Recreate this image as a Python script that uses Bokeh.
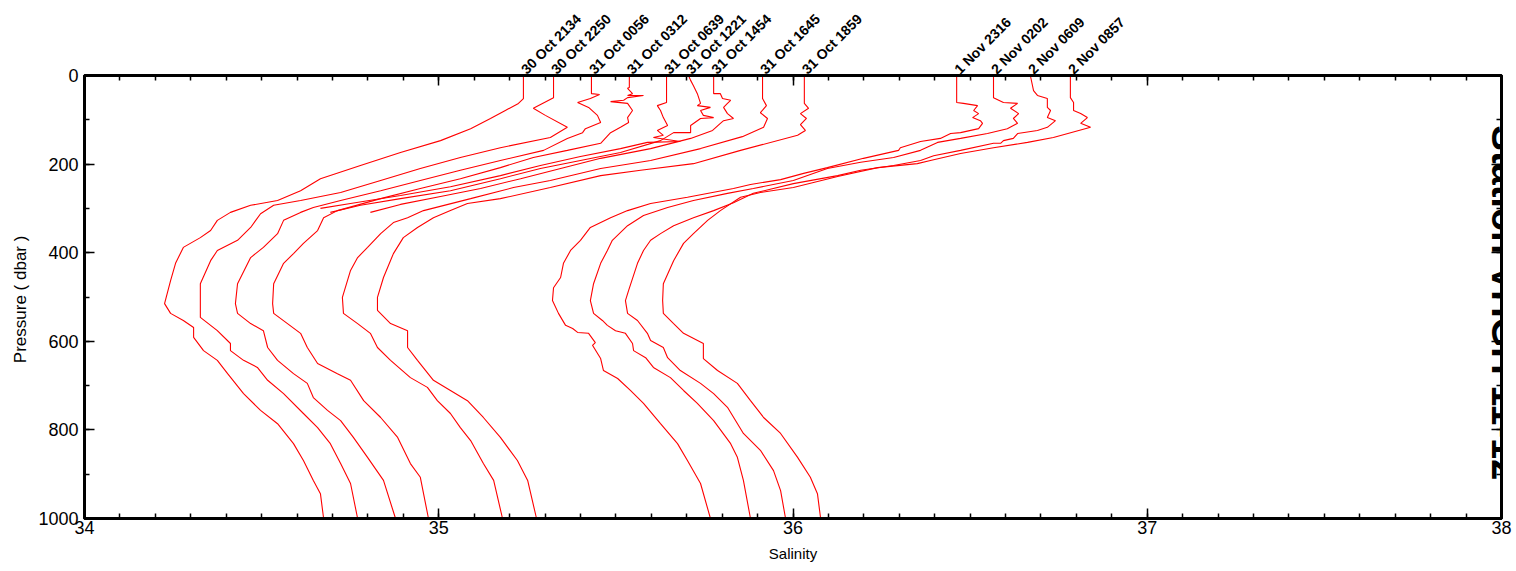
import math
from bokeh.plotting import figure
from bokeh.models import (Range1d, LinearAxis, SingleIntervalTicker, FixedTicker, Label,
                          CustomJSTickFormatter)
from bokeh.embed import file_html
from bokeh.resources import INLINE

# ---------------- data (salinity vs pressure) ----------------
station_labels = ["30 Oct 2134", "30 Oct 2250", "31 Oct 0056", "31 Oct 0312", "31 Oct 0639",
                  "31 Oct 1221", "31 Oct 1454", "31 Oct 1645", "31 Oct 1859",
                  "1 Nov 2316", "2 Nov 0202", "2 Nov 0609", "2 Nov 0857"]

s_30oct2134 = [35.239, 35.239, 35.225, 35.188, 35.146, 35.090, 35.005, 34.892, 34.779, 34.666, 34.610, 34.545,
               34.469, 34.412, 34.375, 34.356, 34.327, 34.279, 34.257, 34.243, 34.226, 34.243, 34.279, 34.308,
               34.308, 34.336, 34.375, 34.404, 34.449, 34.497, 34.545, 34.590, 34.618, 34.646, 34.666, 34.675]
p_30oct2134 = [0, 52, 63, 79, 97, 120, 147, 174, 203, 233, 260, 282, 293, 309, 327, 350, 366, 388, 424, 463,
               515, 537, 553, 569, 591, 621, 643, 673, 718, 756, 786, 831, 869, 914, 944, 1000]

s_30oct2250 = [35.324, 35.324, 35.267, 35.301, 35.363, 35.315, 35.174, 35.061, 34.948, 34.836, 34.723, 34.610,
               34.534, 34.497, 34.469, 34.432, 34.375, 34.356, 34.327, 34.327, 34.327, 34.375, 34.412, 34.412,
               34.449, 34.488, 34.517, 34.562, 34.618, 34.658, 34.694, 34.723, 34.751, 34.771]
p_30oct2250 = [0, 50, 74, 90, 117, 140, 163, 185, 210, 237, 264, 282, 293, 312, 343, 372, 395, 418, 470, 515,
               546, 576, 605, 621, 643, 659, 688, 718, 763, 795, 831, 876, 921, 1000]

s_31oct0056 = [35.431, 35.431, 35.454, 35.428, 35.392, 35.423, 35.448, 35.457, 35.414, 35.406, 35.363, 35.296,
               35.174, 35.061, 34.948, 34.836, 34.723, 34.646, 34.610, 34.562, 34.545, 34.505, 34.469, 34.432,
               34.426, 34.432, 34.469, 34.505, 34.517, 34.545, 34.590, 34.629, 34.646, 34.686, 34.723, 34.759,
               34.799, 34.844, 34.878]
p_31oct0056 = [0, 41, 43, 52, 61, 72, 90, 106, 120, 129, 142, 169, 192, 214, 237, 260, 282, 298, 309, 327,
               357, 388, 411, 470, 515, 537, 560, 576, 614, 643, 673, 695, 727, 756, 779, 817, 862, 914, 1000]

s_31oct0312 = [35.538, 35.538, 35.533, 35.547, 35.533, 35.578, 35.533, 35.522, 35.485, 35.533, 35.547, 35.533,
               35.536, 35.513, 35.485, 35.457, 35.363, 35.267, 35.174, 35.061, 34.948, 34.836, 34.714, 34.675,
               34.658, 34.618, 34.590, 34.562, 34.534, 34.531, 34.534, 34.573, 34.610, 34.629, 34.658, 34.714,
               34.751, 34.788, 34.836, 34.884, 34.920, 34.948, 34.971]
p_31oct0312 = [0, 27, 29, 41, 45, 45, 50, 56, 59, 63, 79, 95, 106, 117, 129, 153, 169, 185, 208, 233, 255, 278,
               305, 321, 350, 379, 402, 424, 470, 515, 537, 560, 582, 614, 650, 673, 688, 734, 772, 817, 876,
               907, 1000]

s_31oct0639 = [35.643, 35.643, 35.617, 35.626, 35.634, 35.646, 35.617, 35.634, 35.606, 35.682, 35.589, 35.513,
               35.400, 35.287, 35.174, 35.033, 34.892, 34.751, 34.666]
p_31oct0639 = [0, 61, 68, 79, 95, 113, 124, 135, 140, 149, 151, 165, 183, 203, 226, 251, 271, 289, 300]

s_31oct1221 = [35.705, 35.711, 35.719, 35.730, 35.739, 35.730, 35.767, 35.739, 35.747, 35.776, 35.739, 35.711,
               35.711, 35.663, 35.626, 35.513, 35.400, 35.287, 35.174, 35.033, 34.892, 34.779, 34.694]
p_31oct1221 = [0, 11, 23, 41, 63, 68, 72, 79, 90, 95, 97, 113, 129, 129, 147, 174, 192, 210, 233, 260, 278,
               293, 309]

s_31oct1454 = [35.776, 35.776, 35.795, 35.801, 35.824, 35.815, 35.804, 35.815, 35.832, 35.804, 35.795, 35.773,
               35.711, 35.598, 35.457, 35.344, 35.231, 35.118, 35.005, 34.892, 34.807]
p_31oct1454 = [0, 41, 41, 52, 56, 63, 72, 86, 97, 102, 108, 124, 142, 165, 187, 210, 233, 255, 273, 291, 309]

s_31oct1645 = [35.914, 35.914, 35.925, 35.908, 35.928, 35.917, 35.857, 35.739, 35.598, 35.457, 35.315, 35.211,
               35.090, 34.957, 34.912, 34.872, 34.836, 34.799, 34.771, 34.751, 34.728, 34.731, 34.771, 34.807,
               34.827, 34.864, 34.920, 34.968, 34.996, 35.033, 35.061, 35.090, 35.126, 35.155, 35.180]
p_31oct1645 = [0, 52, 68, 84, 97, 117, 138, 165, 192, 210, 237, 253, 278, 305, 321, 332, 357, 388, 411, 440,
               501, 537, 560, 582, 614, 643, 682, 704, 734, 763, 795, 824, 876, 914, 1000]

s_31oct1859 = [36.032, 36.032, 36.044, 36.021, 36.038, 36.021, 36.035, 36.021, 36.013, 35.852, 35.719, 35.570,
               35.457, 35.315, 35.174, 35.081, 35.033, 34.985, 34.940, 34.900, 34.872, 34.844, 34.827, 34.827,
               34.864, 34.912, 34.912, 34.940, 34.985, 35.033, 35.081, 35.126, 35.174, 35.222, 35.251, 35.276]
p_31oct1859 = [0, 63, 74, 86, 97, 111, 124, 131, 135, 169, 199, 214, 226, 253, 278, 289, 305, 321, 343, 366,
               402, 456, 501, 530, 560, 576, 614, 643, 688, 711, 734, 772, 817, 869, 914, 1000]

s_1nov2316 = [36.462, 36.462, 36.481, 36.521, 36.510, 36.524, 36.507, 36.529, 36.535, 36.524, 36.473, 36.445,
              36.416, 36.360, 36.303, 36.298, 36.199, 36.097, 36.030, 35.965, 35.880, 35.832, 35.702, 35.598,
              35.533, 35.485, 35.428, 35.400, 35.372, 35.352, 35.344, 35.324, 35.321, 35.338, 35.358, 35.378,
              35.392, 35.423, 35.442, 35.434, 35.457, 35.465, 35.505, 35.541, 35.578, 35.626, 35.674, 35.702,
              35.739, 35.767]
p_1nov2316 = [0, 61, 63, 68, 79, 86, 95, 102, 108, 120, 129, 131, 142, 149, 163, 169, 187, 208, 221, 235, 246,
              255, 275, 289, 305, 321, 343, 372, 395, 424, 456, 479, 508, 537, 564, 571, 580, 582, 603, 609, 639,
              666, 684, 711, 740, 786, 831, 869, 921, 1000]

s_2nov0202 = [36.566, 36.566, 36.594, 36.634, 36.614, 36.637, 36.622, 36.634, 36.605, 36.549, 36.473, 36.408,
              36.360, 36.284, 36.191, 36.097, 36.001, 35.888, 35.815, 35.719, 35.646, 35.578, 35.533, 35.490,
              35.476, 35.457, 35.437, 35.428, 35.437, 35.462, 35.476, 35.499, 35.527, 35.547, 35.550, 35.584,
              35.606, 35.654, 35.691, 35.730, 35.776, 35.824, 35.843, 35.860, 35.880]
p_2nov0202 = [0, 50, 61, 63, 74, 86, 97, 108, 120, 131, 142, 151, 169, 185, 196, 210, 237, 255, 266, 282, 298,
              316, 339, 372, 395, 424, 470, 508, 537, 553, 564, 576, 582, 605, 621, 637, 659, 682, 711, 740, 779,
              831, 862, 914, 1000]

s_2nov0609 = [36.670, 36.679, 36.690, 36.718, 36.718, 36.727, 36.718, 36.741, 36.718, 36.690, 36.634, 36.622,
              36.594, 36.586, 36.566, 36.473, 36.397, 36.360, 36.284, 36.191, 36.126, 36.001, 35.888, 35.832,
              35.776, 35.719, 35.663, 35.626, 35.598, 35.578, 35.561, 35.536, 35.527, 35.533, 35.561, 35.589,
              35.598, 35.634, 35.646, 35.682, 35.739, 35.776, 35.815, 35.860, 35.908, 35.945, 35.965, 35.979]
p_2nov0609 = [0, 34, 45, 52, 72, 79, 95, 102, 117, 124, 131, 142, 147, 153, 153, 169, 181, 192, 203, 214, 226,
              244, 266, 287, 305, 321, 339, 357, 372, 395, 424, 485, 508, 537, 553, 582, 598, 614, 637, 666, 695,
              718, 749, 808, 846, 892, 937, 1000]

s_2nov0857 = [36.783, 36.783, 36.792, 36.792, 36.812, 36.831, 36.812, 36.840, 36.735, 36.662, 36.566, 36.473,
              36.388, 36.351, 36.239, 36.126, 36.001, 35.908, 35.852, 35.795, 35.759, 35.719, 35.691, 35.663,
              35.634, 35.632, 35.634, 35.663, 35.691, 35.747, 35.747, 35.787, 35.843, 35.880, 35.917, 35.965,
              36.013, 36.049, 36.069, 36.078]
p_2nov0857 = [0, 50, 61, 79, 86, 95, 108, 117, 140, 151, 163, 176, 192, 199, 208, 228, 253, 264, 275, 305, 327,
              357, 379, 418, 470, 508, 537, 560, 582, 605, 639, 666, 695, 734, 772, 808, 862, 907, 944, 1000]

profiles = [
    (s_30oct2134, p_30oct2134), (s_30oct2250, p_30oct2250), (s_31oct0056, p_31oct0056),
    (s_31oct0312, p_31oct0312), (s_31oct0639, p_31oct0639), (s_31oct1221, p_31oct1221),
    (s_31oct1454, p_31oct1454), (s_31oct1645, p_31oct1645), (s_31oct1859, p_31oct1859),
    (s_1nov2316, p_1nov2316), (s_2nov0202, p_2nov0202), (s_2nov0609, p_2nov0609),
    (s_2nov0857, p_2nov0857),
]

x_ticks_major = 1.0
y_ticks_major = 200

# ---------------- figure ----------------
FONT = "Liberation Sans"
p = figure(width=1516, height=571, x_range=Range1d(34, 38), y_range=Range1d(1000, 0),
           output_backend="svg", toolbar_location=None,
           min_border_left=84, min_border_right=15, min_border_top=75, min_border_bottom=53)
p.xgrid.visible = False
p.ygrid.visible = False
p.outline_line_color = "black"
p.outline_line_width = 3
p.background_fill_color = "white"
p.border_fill_color = "white"

for sal, pres in profiles:
    p.line(sal, pres, line_color="#ff0000", line_width=1.1)

def style_axis(ax, labels=True):
    ax.axis_line_color = "black"
    ax.axis_line_width = 3
    ax.major_tick_in = 10
    ax.major_tick_out = 0
    ax.minor_tick_in = 5
    ax.minor_tick_out = 0
    ax.major_tick_line_width = 1.5
    ax.minor_tick_line_width = 1.5
    ax.major_tick_line_color = "black"
    ax.minor_tick_line_color = "black"
    ax.major_label_text_font = FONT
    ax.major_label_text_font_size = "18px"
    ax.major_label_text_color = "black"
    ax.axis_label_text_font = FONT
    ax.axis_label_text_font_style = "normal"
    ax.axis_label_text_color = "black"
    if not labels:
        ax.formatter = CustomJSTickFormatter(code="return ''")
        ax.major_label_text_font_size = "0px"
        ax.major_label_standoff = 0

xax = p.xaxis[0]
xax.ticker = SingleIntervalTicker(interval=x_ticks_major, num_minor_ticks=10)
xax.axis_label = "Salinity"
xax.axis_label_text_font_size = "15px"
xax.major_label_standoff = 2
xax.axis_label_standoff = 8
style_axis(xax)

yax = p.yaxis[0]
yax.ticker = SingleIntervalTicker(interval=y_ticks_major, num_minor_ticks=2)
yax.axis_label = "Pressure  ( dbar )"
yax.axis_label_text_font_size = "17px"
yax.major_label_standoff = 6
yax.axis_label_standoff = 5
style_axis(yax)

# top: tick-only axis next to the frame, then the station-label axis above it
top = LinearAxis(ticker=SingleIntervalTicker(interval=x_ticks_major, num_minor_ticks=10))
style_axis(top, labels=False)

surface_sal = [sp[0][0] for sp in profiles]
station_axis = LinearAxis(
    ticker=FixedTicker(ticks=surface_sal),
    formatter=CustomJSTickFormatter(
        args=dict(vals=surface_sal, names=station_labels),
        code="""
        let best = 0;
        for (let i = 0; i < vals.length; i++) {
            if (Math.abs(vals[i] - tick) < Math.abs(vals[best] - tick)) best = i;
        }
        return names[best];
        """))
station_axis.axis_line_color = None
station_axis.major_tick_line_color = None
station_axis.minor_tick_line_color = None
station_axis.major_tick_in = 0
station_axis.major_tick_out = 0
station_axis.minor_tick_in = 0
station_axis.minor_tick_out = 0
station_axis.major_label_orientation = math.pi / 4
station_axis.major_label_standoff = 4
station_axis.major_label_text_font = FONT
station_axis.major_label_text_font_size = "14px"
station_axis.major_label_text_font_style = "bold"
station_axis.major_label_text_color = "black"
p.above = [top, station_axis]

right = LinearAxis(ticker=SingleIntervalTicker(interval=y_ticks_major, num_minor_ticks=2))
style_axis(right, labels=False)
p.add_layout(right, "right")

# large title on the right edge, mostly outside the window (as in the reference)
p.add_layout(Label(x=38.011, y=113, text="Station VHGH 11-12", angle=-90, angle_units="deg",
                   text_font=FONT, text_font_size="38px", text_font_style="bold",
                   text_align="left", text_baseline="alphabetic", text_color="black"))

open("out.html", "w").write(file_html(p, INLINE))
